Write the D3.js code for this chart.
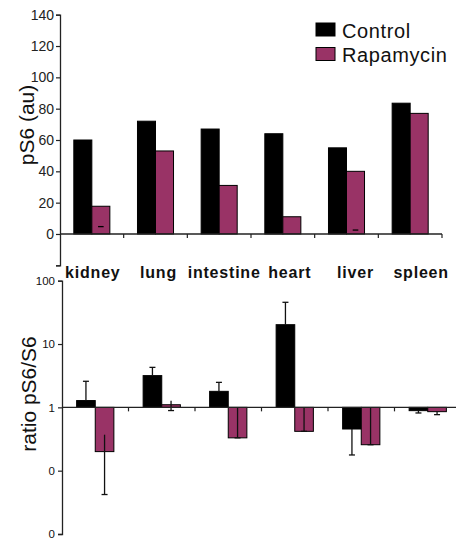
<!DOCTYPE html>
<html>
<head>
<meta charset="utf-8">
<script src="https://cdn.jsdelivr.net/npm/d3@7"></script>
<style>
  body { margin: 0; background: #fff; }
  text { font-family: Arial, "Liberation Sans", sans-serif; }
</style>
</head>
<body>
<div class="chart"></div>
<script>
var svgWidth = 456;
var svgHeight = 541;

// data
var organs = ["kidney", "lung", "intestine", "heart", "liver", "spleen"];
var series = ["Control", "Rapamycin"];
var colors = ["#000000", "#993366"];

// top panel: pS6 (au)
var pS6Control = [60, 72, 67, 64, 55, 83.5];
var pS6Rapamycin = [17.7, 53, 31, 11, 40, 77];
var pS6RapErr = [4.7, null, null, null, 2.5, null];
var pS6Ticks = [-20, 0, 20, 40, 60, 80, 100, 120, 140];

// bottom panel: ratio pS6/S6 (log), error bars [from, to] with cap at "to"
var ratioControl = [1.28, 3.17, 1.79, 20.2, 0.455, 0.887];
var ratioRapamycin = [0.2, 1.1, 0.33, 0.418, 0.257, 0.855];
var ratioControlErr = [[1.28, 2.58], [3.17, 4.28], [1.79, 2.48], [20.2, 45.6], [0.455, 0.177], [0.887, 0.815]];
var ratioRapErr = [[0.37, 0.042], [1.27, 0.89], [1, 0.33], [1, 0.418], [1, 0.257], [0.855, 0.767]];
var ratioTicks = [0.01, 0.1, 1, 10, 100];
var ratioTickLabels = ["0", "0", "1", "10", "100"];

var svg = d3.select(".chart")
  .append("svg")
  .attr("width", svgWidth)
  .attr("height", svgHeight);

// ---------- top panel ----------
var topPanel = svg.append("g");

var x1 = d3.scaleBand().domain(organs).range([60, 442]);
var bw1 = x1.bandwidth() * 0.283;
var y1 = d3.scaleLinear().domain([-20, 140]).range([265.3, 14.7]);

var topAxis = d3.axisLeft(y1)
  .tickValues(pS6Ticks)
  .tickSize(4)
  .tickPadding(2)
  .tickFormat(function(d) { return d < 0 ? "" : d; });

topPanel.append("g")
  .attr("transform", "translate(60,0)")
  .call(topAxis)
  .call(function(g) {
    g.select(".domain").attr("stroke", "#222").attr("stroke-width", 1.3);
    g.selectAll(".tick line").attr("stroke", "#222").attr("stroke-width", 1.2);
    g.selectAll(".tick text").attr("font-size", 14).attr("fill", "#222")
      .attr("font-family", "Arial, 'Liberation Sans', sans-serif");
  });

var topData = organs.map(function(o, i) {
  return { organ: o, vals: [pS6Control[i], pS6Rapamycin[i]], err: pS6RapErr[i] };
});

var groups1 = topPanel.selectAll(".g1")
  .data(topData)
  .enter()
  .append("g")
  .attr("transform", function(d) {
    return "translate(" + (x1(d.organ) + x1.bandwidth() / 2 - bw1) + ",0)";
  });

groups1.selectAll("rect")
  .data(function(d) { return d.vals; })
  .enter()
  .append("rect")
  .attr("x", function(d, i) { return i * bw1; })
  .attr("y", function(d) { return y1(d); })
  .attr("width", bw1)
  .attr("height", function(d) { return y1(0) - y1(d); })
  .attr("fill", function(d, i) { return colors[i]; })
  .attr("stroke", "#000")
  .attr("stroke-width", 1);

groups1.filter(function(d) { return d.err != null; })
  .append("line")
  .attr("x1", bw1 * 1.5 - 2.8)
  .attr("x2", bw1 * 1.5 + 2.8)
  .attr("y1", function(d) { return y1(d.err); })
  .attr("y2", function(d) { return y1(d.err); })
  .attr("stroke", "#000")
  .attr("stroke-width", 1.3);

// x axis line with separator ticks
topPanel.append("line")
  .attr("x1", 60).attr("x2", 442)
  .attr("y1", y1(0)).attr("y2", y1(0))
  .attr("stroke", "#222").attr("stroke-width", 1.3);

topPanel.selectAll(".sep1")
  .data(organs)
  .enter()
  .append("line")
  .attr("x1", function(d) { return x1(d) + x1.bandwidth(); })
  .attr("x2", function(d) { return x1(d) + x1.bandwidth(); })
  .attr("y1", y1(0))
  .attr("y2", y1(0) + 4)
  .attr("stroke", "#222").attr("stroke-width", 1.2);

topPanel.append("text")
  .attr("transform", "translate(34," + 125 + ") rotate(-90)")
  .attr("text-anchor", "middle")
  .attr("font-size", 21)
  .attr("fill", "#111")
  .text("pS6 (au)");

// legend
var legend = topPanel.selectAll(".legend")
  .data(series)
  .enter()
  .append("g")
  .attr("transform", function(d, i) { return "translate(316," + (23 + i * 24.5) + ")"; });

legend.append("rect")
  .attr("width", 19)
  .attr("height", 13)
  .attr("fill", function(d, i) { return colors[i]; })
  .attr("stroke", "#000")
  .attr("stroke-width", 1);

legend.append("text")
  .attr("x", 26)
  .attr("y", 14.5)
  .attr("font-size", 20)
  .attr("letter-spacing", 0.6)
  .attr("fill", "#111")
  .text(function(d) { return d; });

// category labels
topPanel.selectAll(".cat")
  .data(organs)
  .enter()
  .append("text")
  .attr("x", function(d, i) { return x1(d) + x1.bandwidth() / 2 + 1 + i * 2; })
  .attr("y", 278)
  .attr("text-anchor", "middle")
  .attr("font-size", 16)
  .attr("font-weight", "bold")
  .attr("letter-spacing", 0.8)
  .attr("fill", "#111")
  .text(function(d) { return d; });

// ---------- bottom panel ----------
var botPanel = svg.append("g");

var x2 = d3.scaleBand().domain(organs).range([62, 461]);
var bw2 = x2.bandwidth() * 0.28;
var y2 = d3.scaleLog().domain([0.01, 100]).range([534, 280.7]);

var botAxis = d3.axisLeft(y2)
  .tickValues(ratioTicks)
  .tickSize(4)
  .tickPadding(3)
  .tickFormat(function(d, i) { return ratioTickLabels[i]; });

botPanel.append("g")
  .attr("transform", "translate(62,0)")
  .call(botAxis)
  .call(function(g) {
    g.select(".domain").attr("stroke", "#222").attr("stroke-width", 1.3);
    g.selectAll(".tick line").attr("stroke", "#222").attr("stroke-width", 1.2);
    g.selectAll(".tick text").attr("font-size", 11.5).attr("fill", "#111")
      .attr("font-family", "Arial, 'Liberation Sans', sans-serif");
  });

var botData = organs.map(function(o, i) {
  return {
    organ: o,
    bars: [
      { v: ratioControl[i], err: ratioControlErr[i], c: 0 },
      { v: ratioRapamycin[i], err: ratioRapErr[i], c: 1 }
    ]
  };
});

var groups2 = botPanel.selectAll(".g2")
  .data(botData)
  .enter()
  .append("g")
  .attr("transform", function(d) {
    return "translate(" + (x2(d.organ) + x2.bandwidth() / 2 - bw2) + ",0)";
  });

groups2.selectAll("rect")
  .data(function(d) { return d.bars; })
  .enter()
  .append("rect")
  .attr("x", function(d) { return d.c * bw2; })
  .attr("y", function(d) { return Math.min(y2(d.v), y2(1)); })
  .attr("width", bw2)
  .attr("height", function(d) { return Math.abs(y2(1) - y2(d.v)); })
  .attr("fill", function(d) { return colors[d.c]; })
  .attr("stroke", "#000")
  .attr("stroke-width", 1);

groups2.selectAll(".err")
  .data(function(d) { return d.bars; })
  .enter()
  .append("line")
  .attr("x1", function(d) { return d.c * bw2 + bw2 / 2; })
  .attr("x2", function(d) { return d.c * bw2 + bw2 / 2; })
  .attr("y1", function(d) { return y2(d.err[0]); })
  .attr("y2", function(d) { return y2(d.err[1]); })
  .attr("stroke", "#111")
  .attr("stroke-width", 1.3);

groups2.selectAll(".cap")
  .data(function(d) { return d.bars; })
  .enter()
  .append("line")
  .attr("x1", function(d) { return d.c * bw2 + bw2 / 2 - 3; })
  .attr("x2", function(d) { return d.c * bw2 + bw2 / 2 + 3; })
  .attr("y1", function(d) { return y2(d.err[1]); })
  .attr("y2", function(d) { return y2(d.err[1]); })
  .attr("stroke", "#111")
  .attr("stroke-width", 1.3);

botPanel.append("line")
  .attr("x1", 62).attr("x2", 461)
  .attr("y1", y2(1)).attr("y2", y2(1))
  .attr("stroke", "#222").attr("stroke-width", 1.3);

botPanel.selectAll(".sep2")
  .data(organs)
  .enter()
  .append("line")
  .attr("x1", function(d) { return x2(d) + x2.bandwidth(); })
  .attr("x2", function(d) { return x2(d) + x2.bandwidth(); })
  .attr("y1", y2(1))
  .attr("y2", y2(1) + 4)
  .attr("stroke", "#222").attr("stroke-width", 1.2);

botPanel.append("text")
  .attr("transform", "translate(36," + 394 + ") rotate(-90)")
  .attr("text-anchor", "middle")
  .attr("font-size", 21)
  .attr("fill", "#111")
  .text("ratio pS6/S6");
</script>
</body>
</html>
